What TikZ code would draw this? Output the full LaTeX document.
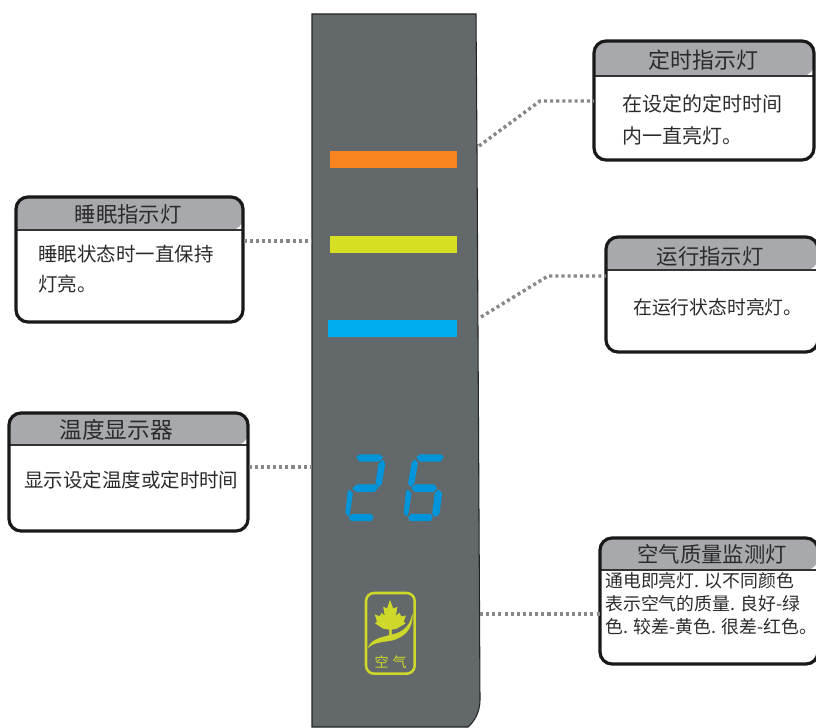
\documentclass[tikz,border=0pt]{standalone}
\usepackage{fontspec}
\newfontfamily\cjk{Noto Sans CJK SC}
\definecolor{panelc}{HTML}{63686A}
\definecolor{titlec}{HTML}{A7A9AC}
\definecolor{ink}{HTML}{2B2B2B}
\definecolor{orangec}{HTML}{F7841E}
\definecolor{yellowc}{HTML}{D7DF23}
\definecolor{bluec}{HTML}{00AEEF}
\definecolor{digitc}{HTML}{0095DA}
\definecolor{leafc}{HTML}{CDD82A}
\definecolor{dotc}{HTML}{858789}
\newcommand{\pxfont}[2]{\fontsize{#1}{#2}\selectfont\cjk}
\tikzset{
  x=0.75pt,y=-0.75pt,
  boxline/.style={draw=black!90,line width=2.4pt,rounded corners=9pt},
  leader/.style={draw=dotc,line width=2.6pt,dash pattern=on 2.3pt off 2.3pt},
  lamp/.style={draw=none,inner sep=0pt,minimum height=12.75pt,anchor=north west},
  heading/.style={inner sep=0pt,text=ink,anchor=center},
  bodytext/.style={inner sep=0pt,text=ink,anchor=west,align=left},
  seg/.style={fill=digitc,draw=digitc,line width=1.3pt,line join=round}
}
% name, x1, y1, x2, y2, title-bottom
\newcommand{\callout}[6]{
  \fill[titlec,rounded corners=9pt] (#2,#6) -- (#2,#3) -- (#4,#3) -- (#4,#6) [sharp corners] -- cycle;
  \draw[black!80,line width=0.9pt] (#2,#6) -- (#4,#6);
  \path[boxline] (#2,#3) rectangle (#4,#5);
  \node[inner sep=0pt,minimum width={(#4-#2)*0.75pt},minimum height={(#5-#3)*0.75pt},anchor=north west] (#1) at (#2,#3) {};
}
\begin{document}
\begin{tikzpicture}
\useasboundingbox (0,0) rectangle (816,727);
% panel
\path[fill=panelc,draw=black!65!panelc,line width=0.8pt] (312,14) -- (476,14) -- (477,150) -- (480,700)
  .. controls (480,712) and (474,722) .. (468,727) -- (312,727) -- cycle;
% lamps
\node[lamp,fill=orangec,minimum width=95.25pt] (lampA) at (330,151) {};
\node[lamp,fill=yellowc,minimum width=95.25pt] (lampB) at (330,236) {};
\node[lamp,fill=bluec,minimum width=96.75pt] (lampC) at (328,320) {};
% callouts
\callout{timerbox}{594}{41}{814}{160}{76}
\callout{runbox}{606}{237}{818}{352}{270}
\callout{sleepbox}{16}{197}{243}{322}{230}
\callout{tempbox}{9}{413}{248}{531}{445}
\callout{airbox}{600}{538}{818}{664}{570}
% titles
\node[heading,font=\pxfont{16.5}{20}] (t1) at (703,60) {定时指示灯};
\node[heading,font=\pxfont{16}{20}] (t2) at (710,256) {运行指示灯};
\node[heading,font=\pxfont{16}{20}] (t3) at (128,214) {睡眠指示灯};
\node[heading,font=\pxfont{17}{20}] (t4) at (116,430) {温度显示器};
\node[heading,font=\pxfont{16}{20}] (t5) at (712,554) {空气质量监测灯};
% bodies
\node[bodytext,font=\pxfont{15}{24.5}] (b1) at (622,120) {在设定的定时时间\\内一直亮灯。};
\node[bodytext,font=\pxfont{14.1}{20}] (b2) at (633,307) {在运行状态时亮灯。};
\node[bodytext,font=\pxfont{14.6}{23}] (b3) at (38,269) {睡眠状态时一直保持\\灯亮。};
\node[bodytext,font=\pxfont{14.6}{20}] (b4) at (24,480) {显示设定温度或定时时间};
\node[bodytext,font=\pxfont{13.4}{17.2}] (b5) at (605,604) {通电即亮灯. 以不同颜色\\表示空气的质量. 良好-绿\\色. 较差-黄色. 很差-红色。};
% connectors
\coordinate (pA) at (479,146);
\coordinate (kA) at (540,101);
\coordinate (pC) at (481,317);
\coordinate (kC) at (548,276);
\coordinate (pB) at (312,241);
\coordinate (pT) at (312,467);
\coordinate (pQ) at (480,614);
\draw[leader] (pA) -- (kA) -- (timerbox.west |- kA);
\draw[leader] (pC) -- (kC) -- (runbox.west |- kC);
\draw[leader] (sleepbox.east |- pB) -- (pB);
\draw[leader] (tempbox.east |- pT) -- (pT);
\draw[leader] (pQ) -- (airbox.west |- pQ);
% digits and icon, in the coordinates of a 3x crop
\begin{scope}[shift={(300,440)},x=0.25pt,y=-0.25pt]
  \filldraw[seg] (172,52)--(180,46)--(238,46)--(246,52)--(236,62)--(180,62)--cycle;
  \filldraw[seg] (248,62)--(253,72)--(243,130)--(237,138)--(229,130)--(238,72)--cycle;
  \filldraw[seg] (160,145)--(172,136)--(225,136)--(232,143)--(222,153)--(170,153)--cycle;
  \filldraw[seg] (147,152)--(156,160)--(148,215)--(145,226)--(139,218)--(145,160)--cycle;
  \filldraw[seg] (149,232)--(158,224)--(212,224)--(218,232)--(212,241)--(155,241)--cycle;
  \filldraw[seg] (352,52)--(360,46)--(422,46)--(428,52)--(420,62)--(360,62)--cycle;
  \filldraw[seg] (345,62)--(351,70)--(341,128)--(333,138)--(327,130)--(337,70)--cycle;
  \filldraw[seg] (337,145)--(347,136)--(402,136)--(408,145)--(400,153)--(345,153)--cycle;
  \filldraw[seg] (322,152)--(332,160)--(324,215)--(320,226)--(314,218)--(320,160)--cycle;
  \filldraw[seg] (415,152)--(424,160)--(416,220)--(405,228)--(399,220)--(407,160)--cycle;
  \filldraw[seg] (327,232)--(335,224)--(390,224)--(396,232)--(390,241)--(332,241)--cycle;
  \draw[leafc,line width=1.9pt,rounded corners=6pt] (198,459) rectangle (344,701);
  \filldraw[fill=leafc,draw=leafc,line width=0.5pt] (270,483)--(279,507)--(291,502)--(286,530)--(298,520)--(303,530)--(316,528)--(310,545)--(315,550)--(290,565)--(274,568)--(274,590)--(268,590)--(268,568)--(250,565)--(227,550)--(232,545)--(226,525)--(240,530)--(245,520)--(256,530)--(251,502)--(262,507)--cycle;
  \filldraw[fill=leafc,draw=leafc,line width=0.3pt] (205,622) .. controls (215,595) and (255,590) .. (285,582) .. controls (315,572) and (330,555) .. (337,525) .. controls (338,570) and (310,590) .. (280,600) .. controls (250,606) and (225,605) .. (205,622) -- cycle;
  \node[inner sep=0pt,text=leafc,font=\pxfont{10.5}{12}] (iconlabel) at (272,665) {空\hspace{3pt}气};
\end{scope}
\end{tikzpicture}
\end{document}
